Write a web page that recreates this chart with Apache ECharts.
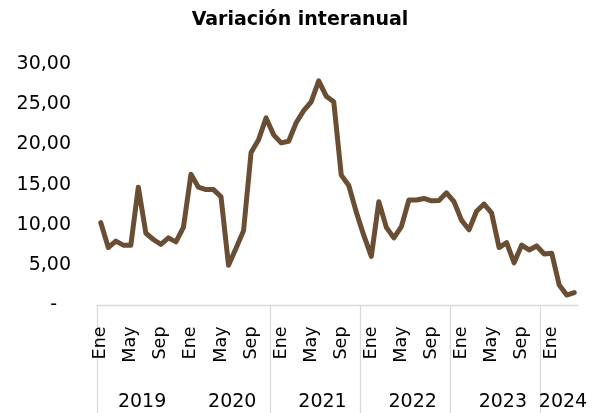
<!DOCTYPE html>
<html>
<head>
<meta charset="utf-8">
<script src="https://cdn.jsdelivr.net/npm/echarts@6/dist/echarts.min.js"></script>
<style>
  html, body { margin: 0; padding: 0; background: #fff; }
  #chart { width: 600px; height: 413px; }
</style>
</head>
<body>
<div id="chart"></div>
<script>
// monthly series, Ene 2019 .. Abr 2024
var monthNames = ['Ene', 'Feb', 'Mar', 'Abr', 'May', 'Jun', 'Jul', 'Ago', 'Sep', 'Oct', 'Nov', 'Dic'];
var years = ['2019', '2020', '2021', '2022', '2023', '2024'];
var values = [
	10.3, 7.2, 8.0, 7.5, 7.5, 14.7, 9.0, 8.2, 7.6, 8.4, 7.9, 9.7,
	16.3, 14.7, 14.4, 14.4, 13.5, 5.0, 7.1, 9.3, 19.0, 20.6, 23.3, 21.2,
	20.2, 20.4, 22.7, 24.2, 25.3, 27.9, 26.0, 25.3, 16.2, 14.9, 11.6, 8.7,
	6.1, 12.9, 9.7, 8.4, 9.8, 13.1, 13.1, 13.3, 13.0, 13.05, 14.0, 12.9,
	10.6, 9.4, 11.7, 12.6, 11.5, 7.2, 7.8, 5.3, 7.5, 6.9, 7.4, 6.4,
	6.5, 2.55, 1.3, 1.6
];
// category boundaries where the original draws its year dividers
var yearSeparators = [0, 23, 35, 47, 59];

var FONT = 'DejaVu Sans';

function buildCategories() {
	var cats = [];
	for (var y = 0; y < years.length; y++) {
		for (var m = 0; m < 12; m++) {
			if (cats.length < values.length) {
				cats.push(monthNames[m] + ' ' + years[y]);
			}
		}
	}
	return cats;
}

function buildYearCenters() {
	var centers = {};
	var n = values.length;
	for (var y = 0; y < years.length; y++) {
		var start = y * 12;
		var end = Math.min(start + 12, n);
		if (start < n) {
			centers[(start + end) / 2] = years[y];
		}
	}
	return centers;
}

var categories = buildCategories();
var yearCenters = buildYearCenters();

var myChart = echarts.init(document.getElementById('chart'), null, { renderer: 'canvas' });

var chartOption = {
	animation: false,
	title: {
		text: 'Variación interanual',
		left: 'center',
		top: 6,
		textStyle: { fontFamily: FONT, fontSize: 19, fontWeight: 'bold', color: '#000' }
	},
	grid: { left: 97, right: 22, top: 64, bottom: 107.5 },
	xAxis: [
		{
			type: 'category',
			data: categories,
			boundaryGap: true,
			axisLine: { lineStyle: { color: '#d9d9d9', width: 1.3 } },
			axisTick: { show: false },
			axisLabel: {
				interval: 3,
				rotate: 90,
				margin: 21,
				fontFamily: FONT,
				fontSize: 17.5,
				color: '#000',
				formatter: function (v) { return v.split(' ')[0]; }
			}
		},
		{
			type: 'value',
			position: 'bottom',
			min: 0,
			max: values.length,
			axisLine: { show: false },
			splitLine: { show: false },
			axisTick: {
				show: true,
				customValues: yearSeparators,
				length: 108,
				lineStyle: { color: '#d9d9d9', width: 1.3 }
			},
			axisLabel: {
				customValues: Object.keys(yearCenters).map(Number),
				margin: 87,
				fontFamily: FONT,
				fontSize: 19,
				color: '#000',
				formatter: function (v) { return yearCenters[v] || ''; }
			}
		}
	],
	yAxis: {
		type: 'value',
		min: 0,
		max: 30,
		interval: 5,
		axisLine: { show: false },
		axisTick: { show: false },
		splitLine: { show: false },
		axisLabel: {
			margin: 26,
			fontFamily: FONT,
			fontSize: 19,
			color: '#000',
			formatter: function (v) {
				if (v === 0) return '{z|-}';
				return v.toFixed(2).replace('.', ',');
			},
			rich: {
				z: { fontFamily: FONT, fontSize: 19, color: '#000', padding: [0, 14, 0, 0] }
			}
		}
	},
	series: [
		{
			type: 'line',
			data: values,
			xAxisIndex: 0,
			symbol: 'none',
			lineStyle: { color: '#6a4e33', width: 5, cap: 'round', join: 'round' }
		}
	]
};

myChart.setOption(chartOption);
</script>
</body>
</html>
